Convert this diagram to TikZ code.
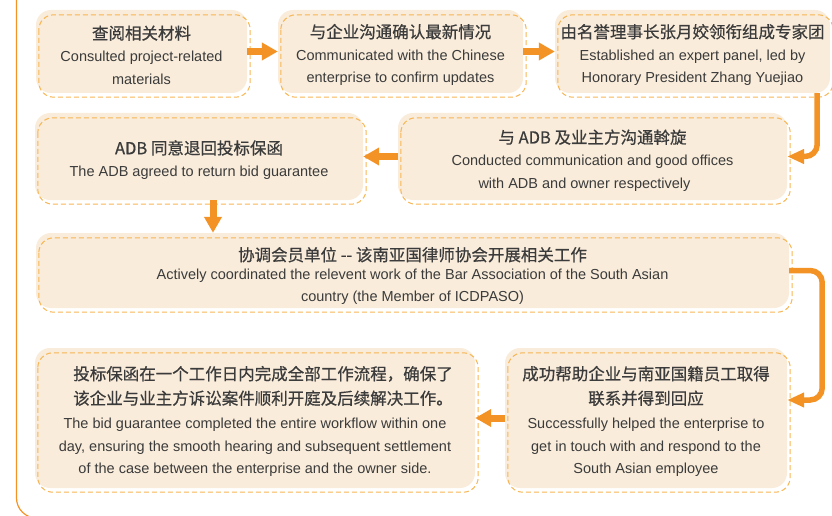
\documentclass[tikz,border=0pt]{standalone}
\usepackage{fontspec}
\setmainfont{Liberation Sans}
\newfontfamily\cjk[FakeBold=0.6]{Noto Sans CJK SC}
\usetikzlibrary{arrows.meta}
\definecolor{boxfill}{HTML}{F9ECDA}
\definecolor{dashcol}{HTML}{F7B553}
\definecolor{arrowcol}{HTML}{F39325}
\definecolor{textcol}{HTML}{3B3B3B}
\newcommand{\ensize}{\fontsize{14.5}{22.5}\selectfont}
\newcommand{\zh}[1]{{\cjk\fontsize{16.5}{22.5}\selectfont #1}}
\newcommand{\padtop}[1]{\rule{0pt}{#1}}
\tikzset{
  {stepbox/.style}={rectangle, rounded corners=15pt, fill=boxfill,
                    inner sep=0, align=center, text=textcol, font=\ensize},
  {dash outline/.style}={draw=dashcol, line width=1pt,
                    dash pattern=on 5pt off 3pt, rounded corners=15pt},
  {flow arrow/.style}={draw=arrowcol, line width=7pt,
                    -{Triangle[length=16pt,width=17pt]}},
  {bend arrow/.style}={draw=arrowcol, line width=5.5pt, rounded corners=12pt,
                    -{Triangle[length=17pt,width=14pt]}},
  {frame line/.style}={draw=arrowcol, line width=1.2pt, rounded corners=20pt},
}
\begin{document}
\begin{tikzpicture}[x=1pt,y=1pt]
\useasboundingbox (0,0) rectangle (832,515);
\draw[frame line] (16.5,520) -- (16.5,-3) -- (90,-3);
% top row
\node[stepbox, minimum width=211pt, minimum height=83pt] (consult) at (141.5,463.5)
  {\padtop{21pt}\zh{查阅相关材料}\\ Consulted project-related\\ materials};
\node[stepbox, minimum width=245pt, minimum height=83pt] (contact) at (400.5,463.5)
  {\padtop{21pt}\zh{与企业沟通确认最新情况}\\ Communicated with the Chinese\\ enterprise to confirm updates};
\node[stepbox, minimum width=275pt, minimum height=83pt] (panel) at (692.5,463.5)
  {\padtop{21pt}\zh{由名誉理事长张月姣领衔组成专家团}\\ Established an expert panel, led by\\ Honorary President Zhang Yuejiao};
% second row
\node[stepbox, minimum width=389pt, minimum height=87pt] (mediate) at (592.5,358.5)
  {\padtop{22pt}\zh{与 ADB 及业主方沟通斡旋}\\ Conducted communication and good offices\hspace*{16pt}\\ with ADB and owner respectively\hspace*{16pt}};
\node[stepbox, minimum width=328pt, minimum height=87pt] (agree) at (199,358.5)
  {\padtop{21pt}\zh{ADB 同意退回投标保函}\\ The ADB agreed to return bid guarantee};
% wide box
\node[stepbox, minimum width=753pt, minimum height=75pt] (coord) at (412.5,244.5)
  {\padtop{25pt}\zh{协调会员单位 -- 该南亚国律师协会开展相关工作}\\[-4pt]
   Actively coordinated the relevent work of the Bar Association of the South Asian\\
   country (the Member of ICDPASO)};
% bottom row
\node[stepbox, minimum width=282pt, minimum height=140pt] (help) at (646,97)
  {\padtop{21pt}\zh{成功帮助企业与南亚国籍员工取得}\\[2pt] \zh{联系并得到回应}\\[2pt]
   Successfully helped the enterprise to\\ get in touch with and respond to the\\ South Asian employee};
\node[stepbox, minimum width=440pt, minimum height=140pt] (done) at (255,97)
  {\padtop{21pt}\hspace*{16pt}\zh{投标保函在一个工作日内完成全部工作流程，确保了}\\[2pt]
   \hspace*{16pt}\zh{该企业与业主方诉讼案件顺利开庭及后续解决工作。}\\[2pt]
   The bid guarantee completed the entire workflow within one\\
   day, ensuring the smooth hearing and subsequent settlement\\
   of the case between the enterprise and the owner side.};
% dashed outlines
\foreach \b in {consult,contact,panel,mediate,agree,coord,help,done}
  \draw[dash outline] ([shift={(3,-5)}]\b.north west) rectangle ([shift={(3,-4)}]\b.south east);
% connectors
\coordinate (down) at ([xshift=14pt]agree.south);
\draw[flow arrow] (consult) -- (contact);
\draw[flow arrow] (contact) -- (panel);
\draw[bend arrow] ([xshift=-13pt]panel.south east) |- (mediate.east);
\draw[flow arrow] (mediate) -- (agree);
\draw[flow arrow] (down) -- (down |- coord.north);
\draw[bend arrow] (coord.east) -- ++(33,0) |- ([yshift=18pt]help.east);
\draw[flow arrow] (help) -- (done);
\end{tikzpicture}
\end{document}
